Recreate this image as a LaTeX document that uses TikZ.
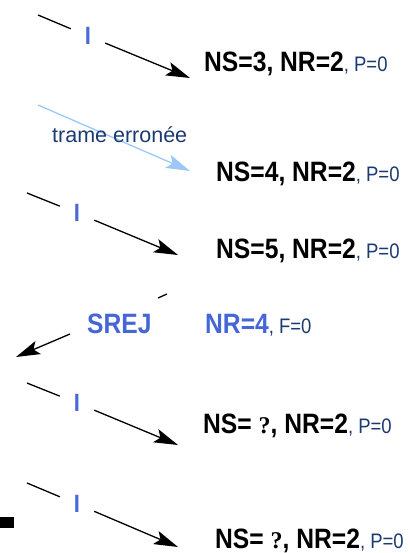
\documentclass[tikz,border=0pt]{standalone}
\usepackage{fontspec}
\setmainfont{Liberation Sans}
\newfontfamily\narrowfont[FakeStretch=0.88]{Liberation Sans}
\newfontfamily\qfont{Liberation Serif}
\usetikzlibrary{arrows.meta}

\definecolor{navy}{HTML}{1B3A72}
\definecolor{srejblue}{HTML}{4466D6}
\definecolor{iblue}{HTML}{4A6AD8}
\definecolor{lightblue}{HTML}{9CC8F8}

\newcommand{\mainpart}[1]{{\narrowfont\fontsize{28}{30}\selectfont\bfseries #1}}
\newcommand{\pfpart}[1]{{\narrowfont\fontsize{21}{24}\selectfont\color{navy}#1}}
\newcommand{\qm}{{\qfont\bfseries\fontsize{24}{26}\selectfont ?}}

\begin{document}
\begin{tikzpicture}[x=1pt, y=-1pt,
    frame/.style = {line width=1.3pt, -{Stealth[length=24pt, width=14pt, inset=5pt]}},
    seg/.style = {line width=1.3pt},
    lblI/.style = {text=iblue, font=\narrowfont\fontsize{25}{28}\selectfont\bfseries, minimum width=34pt, inner sep=0pt},
    info/.style = {anchor=base west, inner sep=0pt}]
	\useasboundingbox (0,0) rectangle (409,553);
	% I, NS=3
	\coordinate (s1) at (38,15);
	\node[lblI] (i1) at (88,36) {I};
	\coordinate (t1) at (190,78);
	\draw[seg] (s1) -- (i1);
	\draw[frame] (i1) -- (t1);
	\node[info] (ns1) at (204,72) {\mainpart{NS=3, NR=2}\pfpart{, P=0}};
	% trame erronee
	\coordinate (s2) at (38,105);
	\coordinate (t2) at (190,171);
	\draw[line width=1.3pt, lightblue, -{Stealth[length=24pt, width=14pt, inset=5pt]}] (s2) -- (t2);
	\node[anchor=base west, inner sep=0pt, text=navy, font=\fontsize{21.5}{24}\selectfont] (err) at (52,143) {trame erronée};
	\node[info] (ns2) at (216,182) {\mainpart{NS=4, NR=2}\pfpart{, P=0}};
	% I, NS=5
	\coordinate (s3) at (27,193);
	\node[lblI] (i3) at (77,213) {I};
	\coordinate (t3) at (178,255);
	\draw[seg] (s3) -- (i3);
	\draw[frame] (i3) -- (t3);
	\node[info] (ns3) at (216,258) {\mainpart{NS=5, NR=2}\pfpart{, P=0}};
	% SREJ
	\coordinate (s4) at (167,294);
	\coordinate (g4a) at (158,298);
	\coordinate (g4b) at (70,334);
	\coordinate (t4) at (16,357);
	\draw[seg] (s4) -- (g4a);
	\draw[frame] (g4b) -- (t4);
	\node[info, text=srejblue, font=\narrowfont\fontsize{28}{30}\selectfont\bfseries] (srej) at (87,333) {SREJ};
	\node[info] (nr4) at (205,333) {\mainpart{\color{srejblue}NR=4}\pfpart{, F=0}};
	% I, NS=?
	\coordinate (s5) at (27,383);
	\node[lblI] (i5) at (77,403) {I};
	\coordinate (t5) at (178,445);
	\draw[seg] (s5) -- (i5);
	\draw[frame] (i5) -- (t5);
	\node[info] (ns5) at (203,433) {\mainpart{NS= \qm, NR=2}\pfpart{, P=0}};
	% I, NS=?
	\coordinate (s6) at (27,483);
	\node[lblI] (i6) at (77,504) {I};
	\coordinate (t6) at (178,547);
	\draw[seg] (s6) -- (i6);
	\draw[frame] (i6) -- (t6);
	\node[info] (ns6) at (215,548) {\mainpart{NS= \qm, NR=2}\pfpart{, P=0}};
	\fill (0,517) rectangle (14,528);
\end{tikzpicture}
\end{document}
